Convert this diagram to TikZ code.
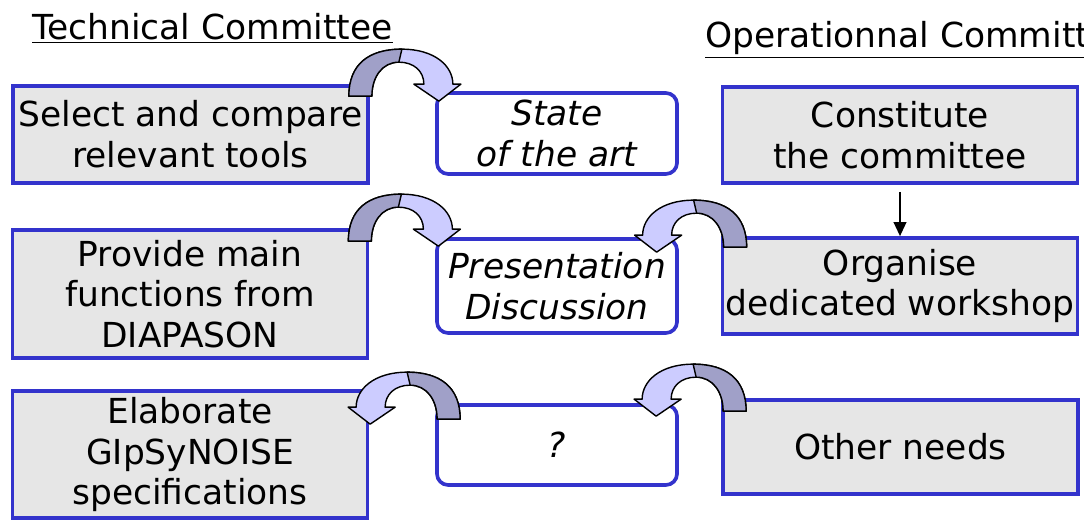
\documentclass[tikz,border=0pt]{standalone}
\usepackage{fontspec}
\setmainfont{DejaVu Sans}
\usetikzlibrary{calc,arrows.meta}
\definecolor{cmtblue}{RGB}{51,51,204}
\definecolor{cmtgray}{RGB}{230,230,230}
\definecolor{turndark}{RGB}{160,160,200}
\definecolor{turnlight}{RGB}{204,204,255}

\begin{document}
\begin{tikzpicture}[x=0.025cm,y=-0.025cm,
  every node/.style={font=\fontsize{24.5}{29}\selectfont, align=center, inner sep=0pt},
  taskbox/.style={draw=cmtblue, line width=2.6pt, fill=cmtgray, minimum width=8.875cm},
  topicbox/.style={draw=cmtblue, line width=2.6pt, fill=white, rounded corners=8pt,
    minimum width=6cm, font=\fontsize{24.5}{29}\selectfont\itshape},
  uturn/.pic={
    \filldraw[fill=turnlight, line width=1pt, line join=round]
      (0,0) .. controls (0,-32) and (20,-47) .. (53,-47)
      .. controls (86,-47) and (104,-30) .. (104,-12)
      -- (112,-12) -- (90,5) -- (65,-12) -- (75,-12)
      .. controls (75,-25) and (65,-34) .. (50,-34)
      .. controls (34,-34) and (23,-20) .. (23,0) -- cycle;
    \filldraw[fill=turndark, line width=1pt, line join=round]
      (0,0) .. controls (0,-32) and (20,-47) .. (53,-47) -- (50,-34)
      .. controls (34,-34) and (23,-20) .. (23,0) -- cycle;
  }]
\useasboundingbox (0,0) rectangle (1084,525);

% Committee titles
\node[anchor=base west] (techtitle) at (32,40) {\underline{Technical Committee}};
\node[anchor=base west] (optitle) at (705,48) {\underline{Operationnal Committee}};

% Technical committee tasks
\node[taskbox, minimum height=2.425cm] (sel) at (190.5,134.5) {Select and compare\\relevant tools};
\node[taskbox, minimum height=3.2cm] (prov) at (190,294) {Provide main\\functions from\\DIAPASON};
\node[taskbox, minimum height=3.175cm] (elab) at (190,454.5) {Elaborate\\GIpSyNOISE\\specifications};

% Shared topics
\node[topicbox, minimum height=2.025cm] (state) at (557,133.5) {State\\of the art};
\node[topicbox, minimum height=2.35cm] (pres) at (557,286) {Presentation\\Discussion};
\node[topicbox, minimum height=2cm] (quest) at (557,445) {?};

% Operational committee tasks
\node[taskbox, minimum height=2.4cm] (const) at (900,135) {Constitute\\the committee};
\node[taskbox, minimum height=2.4cm] (orga) at (900,286) {Organise\\dedicated workshop};
\node[taskbox, minimum height=2.35cm] (other) at (900.5,447) {Other needs};

\draw[line width=1.4pt, -{Triangle[length=10pt,width=9pt]}, shorten <=5pt] (const.south) -- (orga.north);

% U-turn arrows
\pic at ($(sel.north east)+(-21,12)$) {uturn};
\pic at ($(prov.north east)+(-21,13)$) {uturn};
\pic[xscale=-1] at ($(orga.north west)+(26,11)$) {uturn};
\pic[xscale=-1] at ($(quest.north west)+(25,16)$) {uturn};
\pic[xscale=-1] at ($(other.north west)+(25,13)$) {uturn};
\end{tikzpicture}
\end{document}
